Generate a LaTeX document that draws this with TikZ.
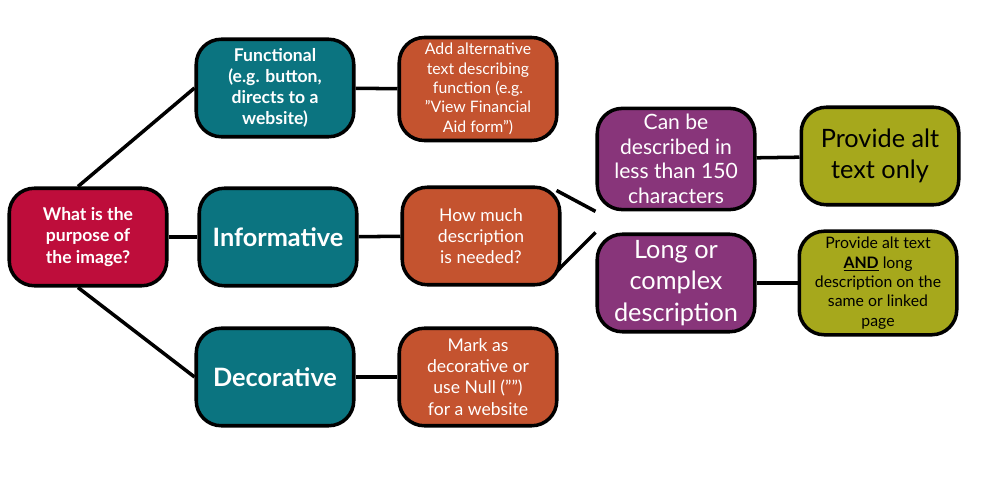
\documentclass[tikz,border=0pt]{standalone}
\usepackage{fontspec}
\setmainfont{Lato}
\definecolor{rootred}{HTML}{BE0D3B}
\definecolor{tealbox}{HTML}{0B7480}
\definecolor{orangebox}{HTML}{C4532F}
\definecolor{purplebox}{HTML}{88357A}
\definecolor{olivebox}{HTML}{A6A81C}
\tikzset{
  box/.style={draw=black,line width=2pt,rounded corners=0.5cm,minimum width=3.15cm,
    minimum height=1.95cm,align=center,text=white,font=\normalsize},
  link/.style={line width=2pt}
}
\begin{document}
\begin{tikzpicture}
  \useasboundingbox (0,0) rectangle (20,-9.62);
  \node[box,fill=rootred,font=\normalsize\bfseries] (purpose) at (1.76,-4.74) {What is the\\purpose of\\the image?};
  \node[box,fill=tealbox,font=\normalsize\bfseries] (functional) at (5.5,-1.76) {Functional\\(e.g. button,\\directs to a\\website)};
  \node[box,fill=tealbox,font=\Large\bfseries] (informative) at (5.56,-4.74) {Informative};
  \node[box,fill=tealbox,font=\Large\bfseries] (decorative) at (5.5,-7.54) {Decorative};
  \node[box,fill=orangebox,font=\small] (addalt) at (9.56,-1.78) {Add alternative\\text describing\\function (e.g.\\"View Financial\\Aid form")};
  \node[box,fill=orangebox] (howmuch) at (9.62,-4.72) {How much\\description\\is needed?};
  \node[box,fill=orangebox] (markdec) at (9.56,-7.54) {Mark as\\decorative or\\use Null ("")\\for a website};
  \node[box,fill=purplebox,font=\large] (short) at (13.52,-3.18) {Can be\\described in\\less than 150\\characters};
  \node[box,fill=purplebox,font=\Large] (long) at (13.52,-5.66) {Long or\\complex\\description};
  \node[box,fill=olivebox,text=black,font=\Large] (altonly) at (17.6,-3.12) {Provide alt\\text only};
  \node[box,fill=olivebox,text=black,font=\small] (altlong) at (17.56,-5.66) {Provide alt text\\\textbf{\underline{AND}} long\\description on the\\same or linked\\page};
  % connectors
  \draw[link] ([xshift=-0.2cm]purpose.north) -- (functional.west);
  \draw[link] (purpose) -- (informative);
  \draw[link] ([xshift=-0.2cm]purpose.south) -- (decorative.west);
  \draw[link] (functional) -- (addalt);
  \draw[link] (informative) -- (howmuch);
  \draw[link] (decorative) -- (markdec);
  \draw[link] ([xshift=-0.1cm,yshift=-0.1cm]howmuch.north east) -- (short.south west);
  \draw[link] ([xshift=-0.1cm,yshift=0.3cm]howmuch.south east) -- (long.north west);
  \draw[link] (short) -- (altonly);
  \draw[link] (long) -- (altlong);
\end{tikzpicture}
\end{document}
